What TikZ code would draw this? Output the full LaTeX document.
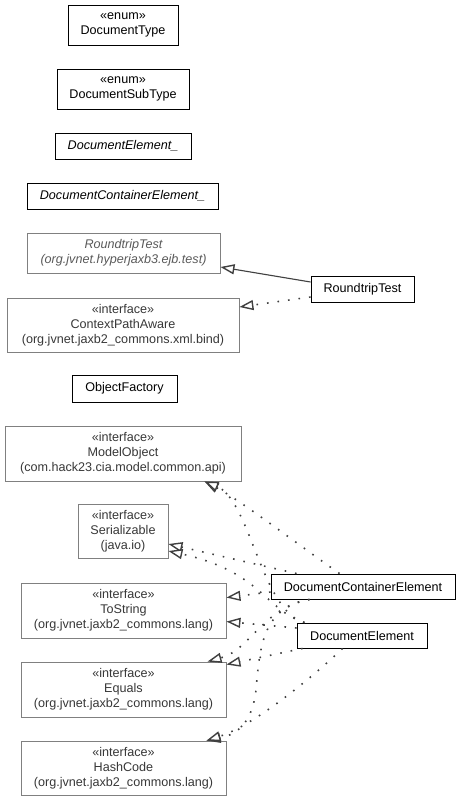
\documentclass[tikz,border=0pt]{standalone}
\usepackage{fontspec}
\setmainfont{Liberation Sans}
\usetikzlibrary{arrows.meta,calc}
\definecolor{edgegray}{HTML}{404040}
\definecolor{boxgray}{HTML}{808080}
\definecolor{ifacetext}{HTML}{383838}
\definecolor{abstext}{HTML}{5A5A5A}

\begin{document}
\begin{tikzpicture}[x=1pt,y=-1pt,
  every node/.style={inner sep=0pt, align=center,
    font=\fontsize{12.6}{15}\selectfont},
  cls/.style={draw=black, line width=0.9pt, fill=white, text=black},
  clsit/.style={cls, font=\fontsize{12.6}{15}\selectfont\itshape},
  iface/.style={draw=boxgray, line width=0.9pt, fill=white, text=ifacetext},
  abstr/.style={draw=boxgray, line width=0.9pt, fill=white, text=abstext,
    font=\fontsize{12.6}{15}\selectfont\itshape},
  hollow/.style={-{Triangle[length=14pt,width=10pt,fill=white,line width=1.4pt]}},
  extend/.style={draw=edgegray, line width=1.1pt, hollow},
  realize/.style={draw=edgegray, line width=1.6pt, dash pattern=on 1.6pt off 9pt, hollow},
]
\useasboundingbox (0,0) rectangle (460,801);

% classes and interfaces
\node[cls, minimum width=110pt, minimum height=40pt] (dtype) at (123,25) {«enum»\\DocumentType};
\node[cls, minimum width=132pt, minimum height=40pt] (dsubtype) at (123,89) {«enum»\\DocumentSubType};
\node[clsit, minimum width=136pt, minimum height=26pt] (delemmeta) at (123,146) {DocumentElement\_};
\node[clsit, minimum width=191pt, minimum height=26pt] (dcontmeta) at (122.5,196) {DocumentContainerElement\_};
\node[abstr, minimum width=193pt, minimum height=40pt] (rtbase) at (123.5,253) {RoundtripTest\\(org.jvnet.hyperjaxb3.ejb.test)};
\node[iface, minimum width=232pt, minimum height=54pt] (cpa) at (123,325) {«interface»\\ContextPathAware\\(org.jvnet.jaxb2\_commons.xml.bind)};
\node[cls, minimum width=103pt, minimum height=26pt] (rt) at (362.5,289) {RoundtripTest};
\node[cls, minimum width=105pt, minimum height=27pt] (of) at (124.5,388.5) {ObjectFactory};
\node[iface, minimum width=236pt, minimum height=55pt] (mo) at (123,453.5) {«interface»\\ModelObject\\(com.hack23.cia.model.common.api)};
\node[iface, minimum width=90pt, minimum height=54pt] (ser) at (123,531) {«interface»\\Serializable\\(java.io)};
\node[cls, minimum width=184pt, minimum height=25pt] (dce) at (363,586.5) {DocumentContainerElement};
\node[iface, minimum width=205pt, minimum height=55pt] (ts) at (123.5,610.5) {«interface»\\ToString\\(org.jvnet.jaxb2\_commons.lang)};
\node[cls, minimum width=130pt, minimum height=25pt] (de) at (362,635.5) {DocumentElement};
\node[iface, minimum width=205pt, minimum height=55pt] (eq) at (123.5,689.5) {«interface»\\Equals\\(org.jvnet.jaxb2\_commons.lang)};
\node[iface, minimum width=205pt, minimum height=54pt] (hc) at (123.5,768) {«interface»\\HashCode\\(org.jvnet.jaxb2\_commons.lang)};

% RoundtripTest
\draw[extend] ($(rt.west)+(0,-7)$) -- ($(rtbase.east)+(0,14)$);
\draw[realize] ($(rt.west)+(0,8)$) -- ($(cpa.east)+(0,-18)$);

% DocumentContainerElement
\draw[realize] ($(dce.north west)+(69,0)$) .. controls (300,546) and (240,500) .. ($(mo.south west)+(200,0)$);
\draw[realize] ($(dce.north west)+(26,0)$) -- ($(ser.east)+(0,13)$);
\draw[realize] ($(dce.west)+(0,5.5)$) -- ($(ts.north east)+(0,15)$);
\draw[realize] ($(dce.south west)+(39,0)$) .. controls (265,606) and (250,650) .. ($(eq.north west)+(187,0)$);
\draw[realize] ($(dce.south west)+(39,0)$) .. controls (265,608) and (260,640) .. (256,690)
  .. controls (252,725) and (235,735) .. ($(hc.north west)+(186,0)$);

% DocumentElement
\draw[realize] ($(de.north west)+(8,0)$) .. controls (262,612) and (250,500) .. ($(mo.south west)+(200,0)$);
\draw[realize] ($(de.north west)+(8,0)$) .. controls (265,610) and (262,572) .. ($(ser.east)+(0,20)$);
\draw[realize] ($(de.west)+(0,-7.5)$) -- ($(ts.north east)+(0,39)$);
\draw[realize] ($(de.south west)+(6,0)$) -- ($(eq.north east)+(0,3)$);
\draw[realize] ($(de.south west)+(46,0)$) .. controls (315,675) and (255,725) .. ($(hc.north west)+(186,0)$);
\end{tikzpicture}
\end{document}
